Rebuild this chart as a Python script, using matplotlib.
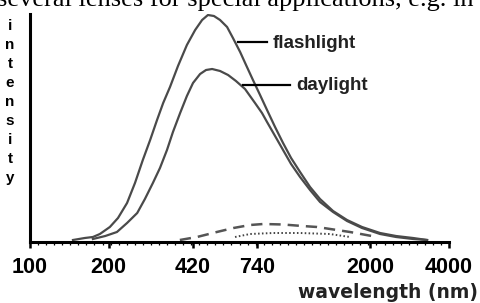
import numpy as np
import matplotlib
matplotlib.use("Agg")
import matplotlib.pyplot as plt

# values (wavelength in nm, intensity in arbitrary units)
flash_wl = [146, 162, 174, 185, 202, 217, 235, 252, 270, 288, 306, 323, 343, 368,
            398, 428, 455, 479, 505, 533, 567, 597, 636, 670, 712, 758, 806, 865,
            928, 996, 1078, 1177, 1285, 1441, 1630, 1860, 2180, 2510, 2916, 3298]
flash_int = [2, 4, 5, 8, 15, 24, 39, 59, 82, 102, 122, 139, 155, 176,
             197, 212, 222, 227, 226, 222, 215, 204, 190, 177, 162, 147, 132, 115,
             99, 84, 70, 55, 43, 31, 22, 15, 9, 6, 4, 2]

day_wl = [174, 194, 215, 235, 257, 275, 295, 314, 334, 352, 375, 398, 420, 447,
          471, 497, 533, 572, 613, 664, 725, 771, 806, 865, 928, 996, 1078, 1177,
          1285, 1441, 1630, 1860, 2180, 2510, 2916, 3298]
day_int = [3, 6, 10, 19, 29, 43, 59, 74, 92, 110, 129, 146, 159, 168,
           172, 173, 171, 167, 161, 153, 139, 129, 120, 106, 92, 78, 65, 52,
           40, 30, 21, 14, 8, 5, 3, 2]

dash_wl = [374, 435, 518, 600, 694, 780, 928, 1100, 1252, 1673, 2125]
dash_int = [2, 5, 10, 14, 17, 18, 17.5, 16, 15, 10, 5]

dot_wl = [608, 694, 850, 1078, 1400, 1673]
dot_int = [5, 8, 9, 9, 8, 5]

tick_vals = [100, 200, 420, 740, 2000, 4000]
tick_labels = ["100", "200", "420", "740", "2000", "4000"]

curve_col = "#4a4a4a"

fig = plt.figure(figsize=(4.8, 3.03), dpi=100)
ax = fig.add_axes([30 / 480, 61 / 303, 419 / 480, 228 / 303])

ax.plot(flash_wl, flash_int, color=curve_col, lw=1.6, solid_joinstyle="round")
ax.plot(day_wl, day_int, color=curve_col, lw=1.6, solid_joinstyle="round")
ax.plot(dash_wl, dash_int, color="#555555", lw=1.8, dashes=(4.5, 2.8))
ax.plot(dot_wl, dot_int, color="#444444", lw=1.4, dashes=(0.8, 1.2))

ax.set_xscale("log")
ax.set_xlim(100, 4000)
ax.set_ylim(0, 228)

# leader lines and curve labels
ax.plot([624, 806], [200, 200], color="black", lw=1.6)
ax.text(850, 199, "flashlight", fontsize=13.5, fontweight="bold",
        family="Liberation Sans", va="center", ha="left", color="#222222")
ax.plot([652, 987], [157, 157], color="black", lw=1.6)
ax.text(1041, 156, "daylight", fontsize=13.5, fontweight="bold",
        family="Liberation Sans", va="center", ha="left", color="#222222")

for s in ["top", "right"]:
    ax.spines[s].set_visible(False)
for s in ["left", "bottom"]:
    ax.spines[s].set_linewidth(2.2)
    ax.spines[s].set_color("black")

ax.set_yticks([])
ax.set_xticks(tick_vals)
ax.set_xticklabels(tick_labels, fontsize=15.5, fontweight="bold", family="Liberation Sans")
ax.set_xticks(10 ** np.linspace(2, np.log10(4000), 53), minor=True)
ax.xaxis.set_minor_formatter(plt.NullFormatter())
ax.tick_params(axis="x", which="major", direction="out", length=4.5, width=1.8, pad=6)
ax.tick_params(axis="x", which="minor", direction="out", length=2.5, width=0.9)

fig.text(10 / 480, 1 - 102 / 303, "i\nn\nt\ne\nn\ns\ni\nt\ny", fontsize=11,
         fontweight="bold", family="Liberation Sans", ha="center", va="center",
         multialignment="center", linespacing=1.45)

fig.text(478 / 480, 5 / 303, "wavelength (nm)", fontsize=13.5, fontweight="bold",
         family="DejaVu Sans", ha="right", va="baseline", color="#222222")

# clipped line of book text above the figure
fig.text(-3 / 480, 1 - 6 / 303, "several lenses for special applications, e.g. in",
         fontsize=19, family="Liberation Serif", ha="left", va="baseline")

fig.savefig("out.png", dpi=100)
